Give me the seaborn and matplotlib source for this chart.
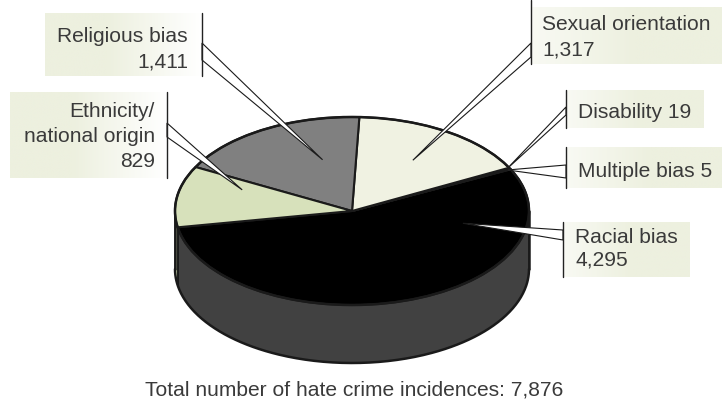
import numpy as np
import matplotlib
matplotlib.use("Agg")
import matplotlib.pyplot as plt
from matplotlib.patches import Polygon, Ellipse
from matplotlib.colors import to_rgb
import seaborn as sns

# ---------------- data ----------------
categories = ["Racial bias", "Multiple bias", "Disability", "Sexual orientation",
              "Religious bias", "Ethnicity/\nnational origin"]
values = [4295, 5, 19, 1317, 1411, 829]
inline_value = [False, True, True, False, False, False]
total_label = "Total number of hate crime incidences: 7,876"

top_colors = ["#000000", "#ffffff", "#e2e6b0", "#f0f2e2", "#808080", "#d7e1bb"]
side_colors = ["#414141", "#dddddd", "#c8cc90", "#d8dac8", "#606060", "#cfdab0"]

# ---------------- style ----------------
sns.set_theme(style="white")
plt.rcParams['font.family'] = ['Liberation Sans', 'DejaVu Sans']
TEXT = "#3a3a3a"
CREAM = "#edf0df"
FS = 15.1

W, H = 722, 400
fig = plt.figure(figsize=(W / 100, H / 100), dpi=100)
ax = fig.add_axes([0, 0, 1, 1])

cx, cy, rx, ry, depth = 352, 211, 177, 94, 58
start = 190.0

vals = np.array(values, float)
spans = 360 * vals / vals.sum()
a0 = start + np.concatenate([[0], np.cumsum(spans)[:-1]])
a1 = a0 + spans
n = len(vals)


def pt(t, r=1.0):
    tr = np.radians(t)
    return cx + r * rx * np.cos(tr), cy - r * ry * np.sin(tr)


# ---- side walls (front half only) ----
for i in range(n):
    for k in range(-1, 3):
        s0 = max(a0[i], 180 + 360 * k)
        s1 = min(a1[i], 360 + 360 * k)
        if s1 > s0:
            t = np.linspace(s0, s1, 200)
            xs, ys = pt(t)
            poly = np.column_stack([np.r_[xs, xs[::-1]], np.r_[ys, (ys + depth)[::-1]]])
            ax.add_patch(Polygon(poly, closed=True, fc=side_colors[i], ec='none', zorder=1))
            for tb in (s0, s1):
                x, y = pt(tb)
                ax.plot([x, x], [y, y + depth], color='k', lw=1.2, zorder=2,
                        solid_capstyle='butt')

# outer outline of the side
t = np.linspace(180, 360, 300)
xs, ys = pt(t)
ax.plot(xs, ys + depth, color='k', lw=1.8, zorder=2)
for tb in (180, 360):
    x, y = pt(tb)
    ax.plot([x, x], [y, y + depth], color='k', lw=1.8, zorder=2)

# ---- top wedges ----
for i in range(n):
    m = max(int(spans[i] * 3), 2) + 1
    t = np.linspace(a0[i], a1[i], m)
    xs, ys = pt(t)
    poly = [(cx, cy)] + list(zip(xs, ys))
    ax.add_patch(Polygon(poly, closed=True, fc=top_colors[i], ec='k', lw=1.5,
                         joinstyle='round', zorder=3))
ax.add_patch(Ellipse((cx, cy), 2 * rx, 2 * ry, fill=False, ec='k', lw=1.8, zorder=4))

# ---------------- labels ----------------
# side, box (x0, y0, x1, y1), line extent, text x, baselines, pointer y's, tip (frac within slice, radius)
layout = [
    dict(side='right', box=(563, 222, 690, 277), line=(222, 277), tx=575, base=[243, 266], py=(230, 240), tip=(0.806, 0.64)),
    dict(side='right', box=(566, 147, 722, 188), line=(147, 188), tx=578, base=[177], py=(165, 178), tip=(0.5, 0.98)),
    dict(side='right', box=(566, 90, 704, 128), line=(90, 128), tx=578, base=[118], py=(107, 115), tip=(0.5, 0.98)),
    dict(side='right', box=(531, 7, 722, 64), line=(0, 64), tx=542, base=[30, 55], py=(43, 57), tip=(0.5, 0.64)),
    dict(side='left', box=(45, 13, 202, 76), line=(13, 76), tx=188, base=[42, 67], py=(43, 60), tip=(0.30, 0.57)),
    dict(side='left', box=(10, 92, 167, 178), line=(92, 178), tx=155, base=[117, 142, 167], py=(123, 137), tip=(0.21, 0.66)),
]

c_cream = np.array(to_rgb(CREAM))
c_white = np.ones(3)
for i, L in enumerate(layout):
    x0, y0, x1, y1 = L['box']
    g = np.linspace(0, 1, 256)[:, None]
    if L['side'] == 'right':
        cols = c_white + (c_cream - c_white) * np.clip(0.35 + g * 1.2, 0, 1)
        linex = x0
        ha = 'left'
    else:
        cols = c_cream + (c_white - c_cream) * np.clip((g - 0.4) / 0.6, 0, 1)
        linex = x1
        ha = 'right'
    img = cols[None, :, :]
    ax.imshow(img, extent=[x0, x1, y1, y0], aspect='auto', zorder=5, interpolation='bilinear')
    ax.plot([linex, linex], list(L['line']), color='#222222', lw=1.0, zorder=7)

    # pointer
    frac, rr = L['tip']
    tx_, ty_ = pt(a0[i] + frac * spans[i], rr)
    ya, yb = L['py']
    ax.add_patch(Polygon([(linex, ya), (tx_, ty_), (linex, yb)], closed=True,
                         fc='white', ec='k', lw=0.8, zorder=6, joinstyle='miter'))

    # text
    val = f"{values[i]:,}"
    if inline_value[i]:
        lines = [f"{categories[i]} {val}"]
    else:
        lines = categories[i].split("\n") + [val]
    for line, b in zip(lines, L['base']):
        ax.text(L['tx'], b, line, ha=ha, va='baseline', fontsize=FS, color=TEXT, zorder=8)

ax.text(354, 395, total_label, ha='center', va='baseline', fontsize=FS, color=TEXT)

ax.set_xlim(0, W)
ax.set_ylim(H, 0)
ax.axis('off')
fig.savefig("out.png", dpi=100)
